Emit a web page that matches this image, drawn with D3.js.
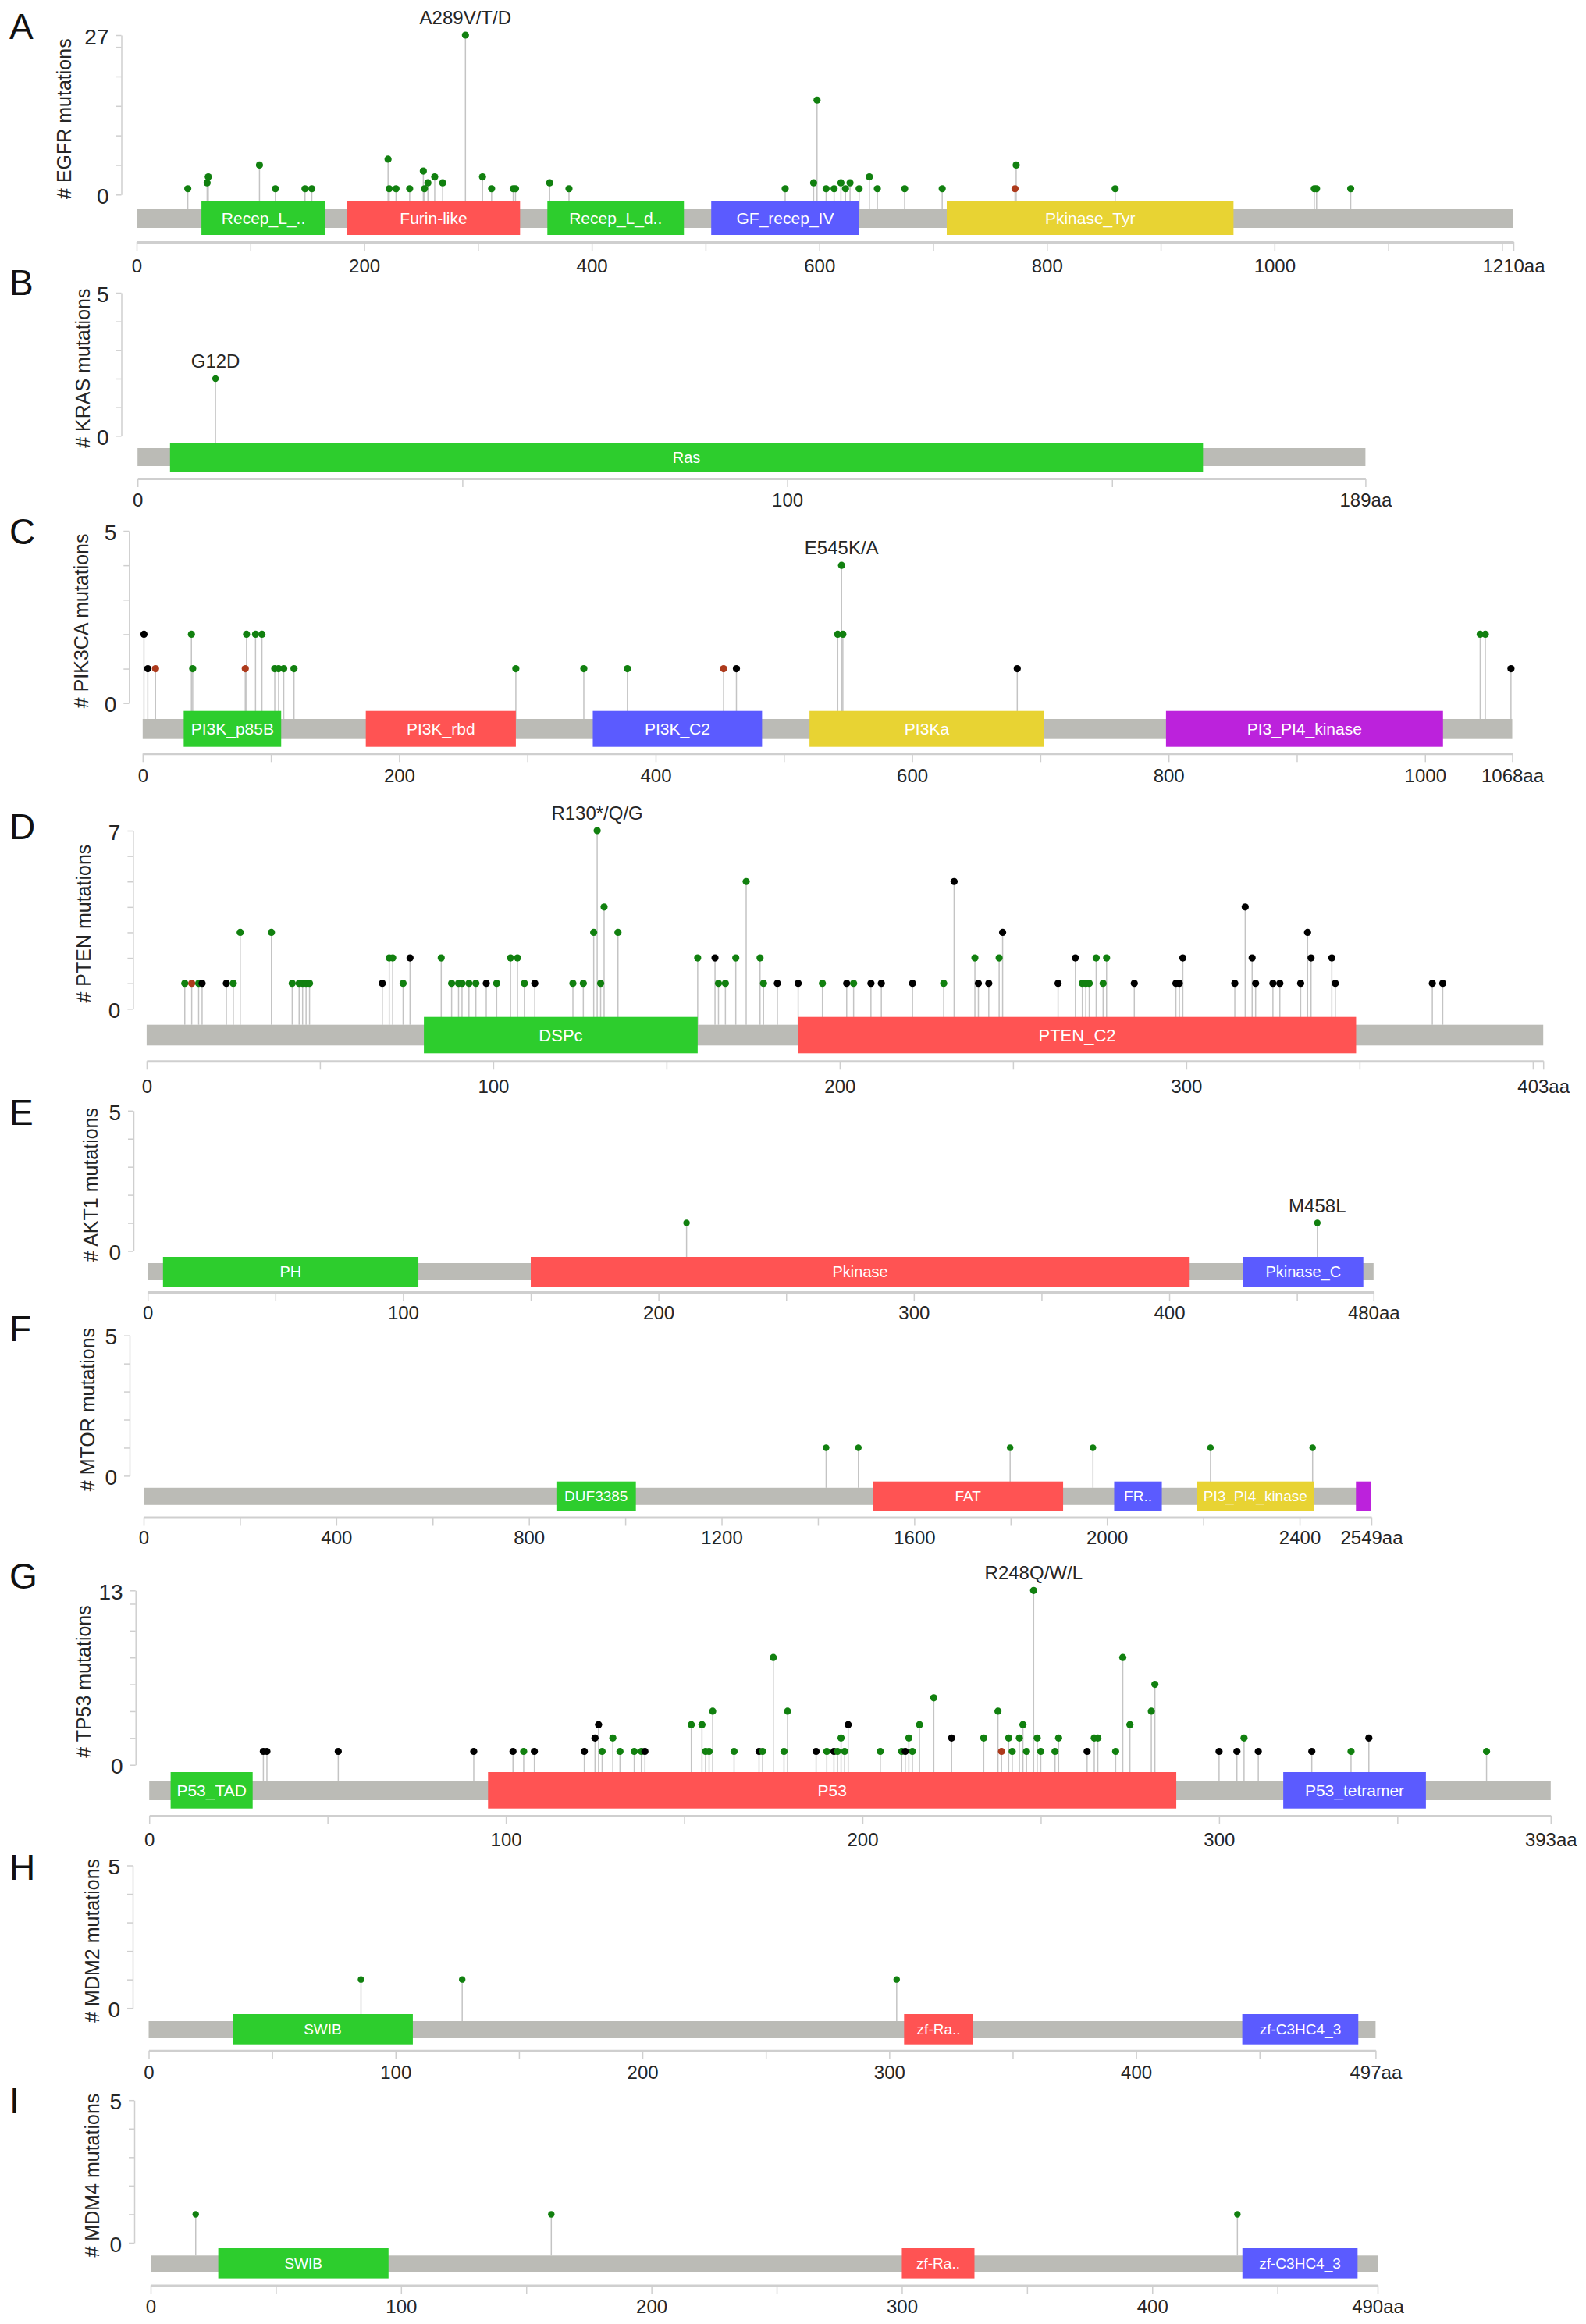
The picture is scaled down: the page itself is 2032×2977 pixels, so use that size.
<!DOCTYPE html>
<html>
<head>
<meta charset="utf-8">
<script src="https://cdn.jsdelivr.net/npm/d3@7"></script>
<style>
  body { margin: 0; background: #fff; }
  svg text { font-family: "Liberation Sans", Arial, Helvetica, sans-serif; }
</style>
</head>
<body>
<svg id="chart" width="2032" height="2977"></svg>
<script>
// ======== data: one entry per panel
const panelLetters = ["A", "B", "C", "D", "E", "F", "G", "H", "I"];
const geneNames = ["EGFR", "KRAS", "PIK3CA", "PTEN", "AKT1", "MTOR", "TP53", "MDM2", "MDM4"];
const proteinLengths = [1210, 189, 1068, 403, 480, 2549, 393, 497, 490];
const yAxisMax = [27, 5, 5, 7, 5, 5, 13, 5, 5];
const yTickSteps = [5, 1, 1, 1, 1, 1, 2, 1, 1];
const xLabelSteps = [200, 100, 200, 100, 100, 400, 100, 100, 100];
const hotspotPositions = [289, 12, 545, 130, 458, null, 248, null, null];
const hotspotLabels = ["A289V/T/D", "G12D", "E545K/A", "R130*/Q/G", "M458L", null, "R248Q/W/L", null, null];

// domains: [pfam id, shown label, start, end]
const egfrDomains = [
  ["Recep_L_domain", "Recep_L_..", 57, 166],
  ["Furin-like", "Furin-like", 185, 337],
  ["Recep_L_domain", "Recep_L_d..", 361, 481],
  ["GF_recep_IV", "GF_recep_IV", 505, 635],
  ["Pkinase_Tyr", "Pkinase_Tyr", 712, 964]
];
const krasDomains = [["Ras", "Ras", 5, 164]];
const pik3caDomains = [
  ["PI3K_p85B", "PI3K_p85B", 32, 108],
  ["PI3K_rbd", "PI3K_rbd", 174, 291],
  ["PI3K_C2", "PI3K_C2", 351, 483],
  ["PI3Ka", "PI3Ka", 520, 703],
  ["PI3_PI4_kinase", "PI3_PI4_kinase", 798, 1014]
];
const ptenDomains = [
  ["DSPc", "DSPc", 80, 159],
  ["PTEN_C2", "PTEN_C2", 188, 349]
];
const akt1Domains = [
  ["PH", "PH", 6, 106],
  ["Pkinase", "Pkinase", 150, 408],
  ["Pkinase_C", "Pkinase_C", 429, 476]
];
const mtorDomains = [
  ["DUF3385", "DUF3385", 857, 1022],
  ["FAT", "FAT", 1514, 1909],
  ["FRB_dom", "FR..", 2015, 2114],
  ["PI3_PI4_kinase", "PI3_PI4_kinase", 2186, 2430],
  ["FATC", "", 2517, 2549]
];
const tp53Domains = [
  ["P53_TAD", "P53_TAD", 6, 29],
  ["P53", "P53", 95, 288],
  ["P53_tetramer", "P53_tetramer", 318, 358]
];
const mdm2Domains = [
  ["SWIB", "SWIB", 34, 107],
  ["zf-RanBP", "zf-Ra..", 306, 334],
  ["zf-C3HC4_3", "zf-C3HC4_3", 443, 490]
];
const mdm4Domains = [
  ["SWIB", "SWIB", 27, 95],
  ["zf-RanBP", "zf-Ra..", 300, 329],
  ["zf-C3HC4_3", "zf-C3HC4_3", 436, 482]
];

// mutations: [position, count, type]  m = missense, t = truncating, i = inframe
const egfrMutations = [
  [45,1,"m"],[62,2,"m"],[63,3,"m"],[108,5,"m"],[122,1,"m"],[148,1,"m"],[154,1,"m"],
  [221,6,"m"],[222,1,"m"],[228,1,"m"],[240,1,"m"],[252,4,"m"],[253,1,"m"],[256,2,"m"],
  [262,3,"m"],[269,2,"m"],[289,27,"m"],[304,3,"m"],[312,1,"m"],[331,1,"m"],[333,1,"m"],
  [363,2,"m"],[380,1,"m"],[570,1,"m"],[595,2,"m"],[598,16,"m"],[606,1,"m"],[613,1,"m"],
  [619,2,"m"],[623,1,"m"],[627,2,"m"],[635,1,"m"],[644,3,"m"],[651,1,"m"],[675,1,"m"],
  [708,1,"m"],[773,5,"m"],[772,1,"i"],[860,1,"m"],[1035,1,"m"],[1037,1,"m"],[1067,1,"m"]
];
const krasMutations = [[12,2,"m"]];
const pik3caMutations = [
  [1,2,"t"],[4,1,"t"],[10,1,"i"],[38,2,"m"],[39,1,"m"],[80,1,"i"],[81,2,"m"],[88,2,"m"],
  [93,2,"m"],[103,1,"m"],[106,1,"m"],[110,1,"m"],[118,1,"m"],[291,1,"m"],[344,1,"m"],
  [378,1,"m"],[453,1,"i"],[463,1,"t"],[542,2,"m"],[545,4,"m"],[546,2,"m"],[682,1,"t"],
  [1043,2,"m"],[1047,2,"m"],[1067,1,"t"]
];
const ptenMutations = [
  [11,1,"m"],[13,1,"i"],[15,1,"m"],[16,1,"t"],[23,1,"t"],[25,1,"m"],[27,3,"m"],[36,3,"m"],
  [42,1,"m"],[44,1,"m"],[45,1,"m"],[46,1,"m"],[47,1,"m"],[68,1,"t"],[70,2,"m"],[71,2,"m"],
  [74,1,"m"],[76,2,"t"],[85,2,"m"],[88,1,"m"],[90,1,"m"],[91,1,"m"],[93,1,"m"],[95,1,"m"],
  [98,1,"t"],[101,1,"m"],[105,2,"m"],[107,2,"m"],[109,1,"m"],[112,1,"t"],[123,1,"m"],
  [126,1,"m"],[129,3,"m"],[130,7,"m"],[131,1,"m"],[132,4,"m"],[136,3,"m"],[159,2,"m"],
  [164,2,"t"],[165,1,"m"],[167,1,"m"],[170,2,"m"],[173,5,"m"],[177,2,"m"],[178,1,"m"],
  [182,1,"t"],[188,1,"t"],[195,1,"m"],[202,1,"t"],[204,1,"m"],[209,1,"t"],[212,1,"t"],
  [221,1,"t"],[230,1,"m"],[233,5,"t"],[239,2,"m"],[240,1,"t"],[243,1,"t"],[246,2,"m"],
  [247,3,"t"],[263,1,"t"],[268,2,"t"],[270,1,"m"],[271,1,"m"],[272,1,"m"],[274,2,"m"],
  [276,1,"m"],[277,2,"m"],[285,1,"t"],[297,1,"t"],[298,1,"t"],[299,2,"t"],[314,1,"t"],
  [317,4,"t"],[319,2,"t"],[320,1,"t"],[325,1,"t"],[327,1,"t"],[333,1,"t"],[335,3,"t"],
  [336,2,"t"],[342,2,"t"],[343,1,"t"],[371,1,"t"],[374,1,"t"]
];
const akt1Mutations = [[211,1,"m"],[458,1,"m"]];
const mtorMutations = [[1417,1,"m"],[1484,1,"m"],[1799,1,"m"],[1971,1,"m"],[2215,1,"m"],[2427,1,"m"]];
const tp53Mutations = [
  [32,1,"t"],[33,1,"t"],[53,1,"t"],[91,1,"t"],[102,1,"t"],[105,1,"m"],[108,1,"t"],
  [122,1,"t"],[125,2,"t"],[126,3,"t"],[127,1,"m"],[130,2,"m"],[132,1,"m"],[136,1,"m"],
  [138,1,"m"],[139,1,"t"],[152,3,"m"],[155,3,"m"],[156,1,"m"],[157,1,"m"],[158,4,"m"],
  [164,1,"m"],[171,1,"t"],[172,1,"m"],[175,8,"m"],[178,1,"m"],[179,4,"m"],
  [187,1,"t"],[190,1,"m"],[192,1,"t"],[193,1,"m"],[194,2,"m"],[195,1,"m"],[196,3,"t"],
  [205,1,"m"],[211,1,"m"],[212,1,"t"],[213,2,"m"],[214,1,"m"],[216,3,"m"],[220,5,"m"],
  [225,2,"t"],[234,2,"m"],[238,4,"m"],[239,1,"i"],[241,2,"m"],[242,1,"m"],[244,2,"m"],
  [245,3,"m"],[246,1,"m"],[248,13,"m"],[249,2,"m"],[250,1,"m"],[254,1,"m"],[255,2,"m"],
  [263,1,"t"],[265,2,"m"],[266,2,"m"],[271,1,"m"],[273,8,"m"],[275,3,"m"],[281,4,"m"],
  [282,6,"m"],[300,1,"t"],[305,1,"t"],[307,2,"m"],[311,1,"t"],[326,1,"t"],[337,1,"m"],
  [342,2,"t"],[375,1,"m"]
];
const mdm2Mutations = [[86,1,"m"],[127,1,"m"],[303,1,"m"]];
const mdm4Mutations = [[18,1,"m"],[160,1,"m"],[434,1,"m"]];

const domainSets = [egfrDomains, krasDomains, pik3caDomains, ptenDomains, akt1Domains,
  mtorDomains, tp53Domains, mdm2Domains, mdm4Domains];
const mutationSets = [egfrMutations, krasMutations, pik3caMutations, ptenMutations, akt1Mutations,
  mtorMutations, tp53Mutations, mdm2Mutations, mdm4Mutations];

// ======== layout of each panel (pixels)
const layout = [
  { x0: 175,   x1: 1939,   yTop: 45,     yZero: 249.3,  bar: [268, 292],       dom: [258, 301],       axisY: 310,    labelY: 340,    axisX: 155.5, letterY: 50,   titleX: 82,  domFont: 21, r: 4.6 },
  { x0: 176.2, x1: 1749.4, yTop: 375,    yZero: 558.3,  bar: [574, 597],       dom: [567, 605],       axisY: 613,    labelY: 640,    axisX: 155.5, letterY: 378,  titleX: 106, domFont: 20, r: 4.2 },
  { x0: 182.8, x1: 1937.5, yTop: 680,    yZero: 900.7,  bar: [921, 946.7],     dom: [910.7, 956.7],   axisY: 965.3,  labelY: 993,    axisX: 165.3, letterY: 697,  titleX: 104, domFont: 21, r: 4.6 },
  { x0: 187.9, x1: 1977.2, yTop: 1064,   yZero: 1292.3, bar: [1312.7, 1339.3], dom: [1302.7, 1349.3], axisY: 1359.3, labelY: 1391.7, axisX: 170.4, letterY: 1075, titleX: 107, domFont: 22, r: 4.6 },
  { x0: 189.2, x1: 1759.8, yTop: 1422.8, yZero: 1602.5, bar: [1618, 1640],     dom: [1610, 1648.4],   axisY: 1655,   labelY: 1681,   axisX: 171,   letterY: 1441, titleX: 116, domFont: 20, r: 4.2 },
  { x0: 184,   x1: 1757,   yTop: 1710.7, yZero: 1890.4, bar: [1905.8, 1927.8], dom: [1897.7, 1935],   axisY: 1943.5, labelY: 1969,   axisX: 166,   letterY: 1718, titleX: 112, domFont: 19, r: 4.2 },
  { x0: 191.2, x1: 1986.8, yTop: 2037.3, yZero: 2260.7, bar: [2281, 2306],     dom: [2270, 2316.7],   axisY: 2326,   labelY: 2356.7, axisX: 173.7, letterY: 2035, titleX: 107, domFont: 21, r: 4.6 },
  { x0: 190.5, x1: 1762.4, yTop: 2389.5, yZero: 2572.2, bar: [2589, 2610.7],   dom: [2580, 2618.7],   axisY: 2626.7, labelY: 2654,   axisX: 170,   letterY: 2408, titleX: 118, domFont: 19, r: 4.2 },
  { x0: 193,   x1: 1765,   yTop: 2690.2, yZero: 2873,   bar: [2889.3, 2910.3], dom: [2880, 2918.6],   axisY: 2927.4, labelY: 2954.8, axisX: 172,   letterY: 2707, titleX: 118, domFont: 19, r: 4.2 }
];

const domainColors = ["#2dcd2d", "#ff5353", "#5b5bff", "#e8d333", "#bc22dc"];
const mutColors = { m: "#11800f", t: "#000000", i: "#ad3a1c" };
const BAR_COLOR = "#bbbbb6";
const AXIS_COLOR = "#cfcfcf";
const TEXT_COLOR = "#262626";

const svg = d3.select("#chart");

panelLetters.forEach((letter, i) => drawPanel(i));

function drawPanel(i) {
  const L = layout[i];
  const len = proteinLengths[i];
  const yMax = yAxisMax[i];
  const g = svg.append("g").attr("class", "panel-" + geneNames[i]);

  const x = d3.scaleLinear().domain([0, len]).range([L.x0, L.x1]);
  const y = d3.scaleLinear().domain([0, yMax]).range([L.yZero, L.yTop]);

  // panel letter
  g.append("text")
    .attr("x", 12).attr("y", L.letterY)
    .attr("font-size", 46).attr("fill", "#111")
    .text(panelLetters[i]);

  // ==== y axis
  const yTicks = d3.range(0, yMax, yTickSteps[i]).concat([yMax]);
  const yAxis = d3.axisLeft(y)
    .tickValues(yTicks)
    .tickSize(7).tickSizeOuter(0).tickPadding(9)
    .tickFormat(d => (d === 0 || d === yMax) ? d : "");
  const ya = g.append("g").attr("transform", `translate(${L.axisX},0)`).call(yAxis);
  ya.select(".domain").attr("stroke", AXIS_COLOR).attr("stroke-width", 1.5);
  ya.selectAll(".tick line").attr("stroke", AXIS_COLOR).attr("stroke-width", 1.5);
  ya.selectAll(".tick text").attr("font-size", 28).attr("fill", TEXT_COLOR)
    .attr("font-family", "Liberation Sans, Arial, sans-serif").attr("dy", "0.4em");

  const titleY = (L.yTop + L.yZero) / 2 + 5;
  g.append("text")
    .attr("transform", `translate(${L.titleX + 9},${titleY}) rotate(-90)`)
    .attr("text-anchor", "middle")
    .attr("font-size", 25).attr("fill", TEXT_COLOR)
    .text(`# ${geneNames[i]} mutations`);

  // ==== x axis (no round label right next to the "…aa" end label)
  const step = xLabelSteps[i];
  const xTicks = d3.range(0, len, step / 2).concat([len]);
  const tickLen = 11;
  const pad = L.labelY + 8.5 - L.axisY - tickLen - 17;
  const xAxis = d3.axisBottom(x)
    .tickValues(xTicks)
    .tickSize(tickLen).tickSizeOuter(0).tickPadding(pad)
    .tickFormat(d => {
      if (d === len) return `${len}aa`;
      if (d % step === 0 && len - d >= step / 4) return d;
      return "";
    });
  const xa = g.append("g").attr("transform", `translate(0,${L.axisY})`).call(xAxis);
  xa.select(".domain").attr("stroke", AXIS_COLOR).attr("stroke-width", 3);
  xa.selectAll(".tick line").attr("stroke", AXIS_COLOR).attr("stroke-width", 1.5);
  xa.selectAll(".tick text").attr("font-size", 24).attr("fill", TEXT_COLOR)
    .attr("font-family", "Liberation Sans, Arial, sans-serif");

  const muts = mutationSets[i].map(([pos, count, type]) => ({ pos, count, type }));

  // ==== stems
  g.append("g").selectAll("line")
    .data(muts)
    .join("line")
    .attr("x1", d => x(d.pos)).attr("x2", d => x(d.pos))
    .attr("y1", d => y(d.count)).attr("y2", L.bar[0])
    .attr("stroke", "#c4c4c4").attr("stroke-width", 1.5);

  // ==== protein backbone
  g.append("rect")
    .attr("x", x(0)).attr("width", x(len) - x(0))
    .attr("y", L.bar[0]).attr("height", L.bar[1] - L.bar[0])
    .attr("fill", BAR_COLOR);

  // ==== domains, coloured by order of first appearance of each pfam id
  const ids = [];
  const domains = domainSets[i].map(([id, label, start, end]) => {
    if (!ids.includes(id)) ids.push(id);
    return { id, label, start, end, color: domainColors[ids.indexOf(id) % domainColors.length] };
  });
  const dg = g.append("g").selectAll("g").data(domains).join("g");
  dg.append("rect")
    .attr("x", d => x(d.start)).attr("width", d => x(d.end) - x(d.start))
    .attr("y", L.dom[0]).attr("height", L.dom[1] - L.dom[0])
    .attr("fill", d => d.color);
  dg.append("text")
    .attr("x", d => (x(d.start) + x(d.end)) / 2)
    .attr("y", (L.dom[0] + L.dom[1]) / 2)
    .attr("dy", "0.36em")
    .attr("text-anchor", "middle")
    .attr("font-size", L.domFont).attr("fill", "#fff")
    .text(d => d.label);

  // ==== lollipop heads (taller first so short ones sit on top)
  g.append("g").selectAll("circle")
    .data(muts.slice().sort((a, b) => b.count - a.count))
    .join("circle")
    .attr("cx", d => x(d.pos)).attr("cy", d => y(d.count))
    .attr("r", L.r)
    .attr("fill", d => mutColors[d.type]);

  // ==== hotspot label
  if (hotspotPositions[i] !== null) {
    const top = muts.filter(d => d.pos === hotspotPositions[i])
      .reduce((a, b) => (b.count > a.count ? b : a));
    g.append("text")
      .attr("x", x(top.pos)).attr("y", y(top.count) - 14)
      .attr("text-anchor", "middle")
      .attr("font-size", 24).attr("fill", TEXT_COLOR)
      .text(hotspotLabels[i]);
  }
}
</script>
</body>
</html>
